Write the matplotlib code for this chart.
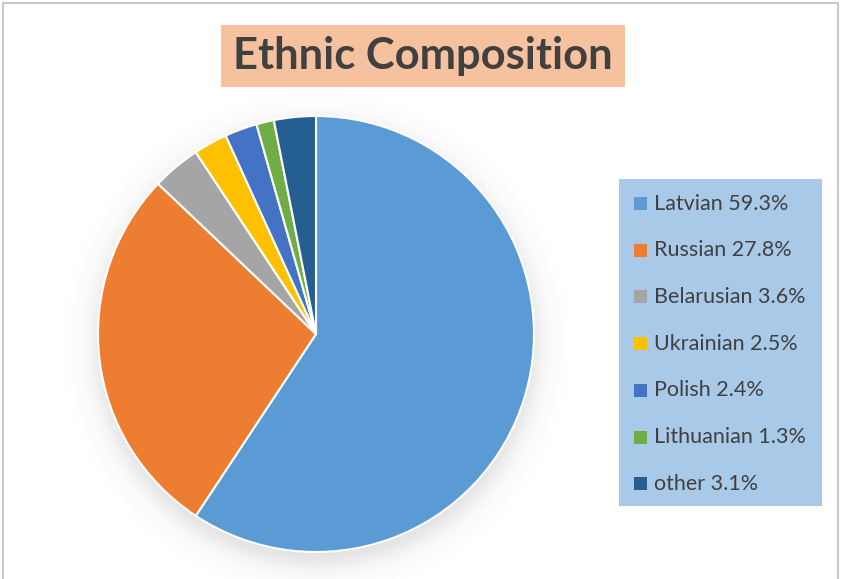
import matplotlib
matplotlib.use("Agg")
import numpy as np
import matplotlib.pyplot as plt
from matplotlib.patches import Rectangle

# data
groups = ["Latvian", "Russian", "Belarusian", "Ukrainian", "Polish", "Lithuanian", "other"]
shares = [59.3, 27.8, 3.6, 2.5, 2.4, 1.3, 3.1]
colors = ["#5B9BD5", "#ED7D31", "#A5A5A5", "#FFC000", "#4472C4", "#70AD47", "#255E91"]

W, H = 841, 579
txt_col = "#404040"
plt.rcParams['font.family'] = ['Lato', 'DejaVu Sans']

fig = plt.figure(figsize=(W / 100, H / 100), dpi=100)


def px(x, y):
    return x / W, 1 - y / H


# outer chart border (bottom edge runs off the image)
fig.patches.append(Rectangle(px(3, 590), 835 / W, 587 / H, transform=fig.transFigure,
                             fill=False, edgecolor="#BFBFBF", lw=1.2))

cx, cy, r = 316, 334, 218

# soft drop shadow under the pie
bg = fig.add_axes([0, 0, 1, 1], zorder=0)
yy, xx = np.mgrid[0:H, 0:W]
d = np.hypot(xx - cx, yy - (cy + 9)) - (r + 2)
a = 0.26 / (1 + np.exp(d / 8.0))
shade = np.zeros((H, W, 4))
shade[..., :3] = 0.45
shade[..., 3] = a
bg.imshow(shade, extent=[0, W, H, 0], aspect="auto", interpolation="bilinear")
bg.set_xlim(0, W)
bg.set_ylim(H, 0)
bg.axis("off")

# pie
ax = fig.add_axes([(cx - r) / W, 1 - (cy + r) / H, 2 * r / W, 2 * r / H], zorder=1)
ax.pie(shares, colors=colors, startangle=90, counterclock=False,
       wedgeprops=dict(edgecolor="white", linewidth=1.5))
ax.set_aspect("equal")
ax.set_xlim(-1, 1)
ax.set_ylim(-1, 1)
ax.axis("off")

# title box
fig.patches.append(Rectangle(px(221, 87), 404 / W, 62 / H, transform=fig.transFigure,
                             facecolor="#F5C19F", edgecolor="none"))
fig.text(*px(423, 56), "Ethnic Composition", fontsize=31.3, fontweight="bold",
         color=txt_col, ha="center", va="center")

# legend box
fig.patches.append(Rectangle(px(619, 506), 203 / W, 327 / H, transform=fig.transFigure,
                             facecolor="#A9C9E8", edgecolor="none"))
for i, (g, s, c) in enumerate(zip(groups, shares, colors)):
    y = 203.5 + i * 46.7
    fig.patches.append(Rectangle(px(634, y + 6.5), 13 / W, 13 / H, transform=fig.transFigure,
                                 facecolor=c, edgecolor="none"))
    fig.text(*px(654, y), f"{g} {s}%", fontsize=15.5, color=txt_col, ha="left", va="center")

fig.savefig("out.png", dpi=100)
